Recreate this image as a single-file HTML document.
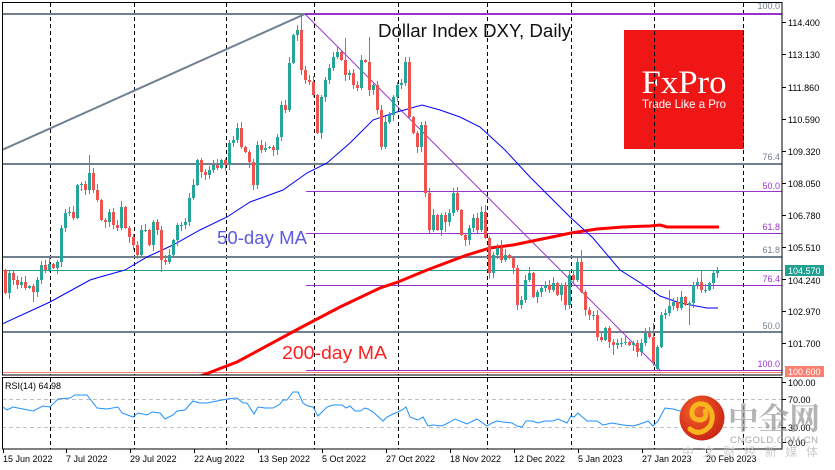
<!DOCTYPE html>
<html><head><meta charset="utf-8">
<style>
html,body{margin:0;padding:0;background:#fff;}
svg{display:block;}
text{font-family:"Liberation Sans","Noto Sans CJK SC",sans-serif;}
</style></head>
<body>
<svg width="835" height="470" viewBox="0 0 835 470" xmlns="http://www.w3.org/2000/svg">
<defs>
<clipPath id="mainclip"><rect x="2" y="2" width="780" height="373"/></clipPath>
<clipPath id="rsiclip"><rect x="2" y="377" width="780" height="72"/></clipPath>
<radialGradient id="lg" cx="0.4" cy="0.35" r="0.7">
<stop offset="0" stop-color="#f06a2a"/><stop offset="0.6" stop-color="#dc3a1c"/><stop offset="1" stop-color="#c42516"/>
</radialGradient>
</defs>
<rect width="835" height="470" fill="#fff"/>

<!-- FxPro box -->
<rect x="624" y="30" width="120" height="119" fill="#f01616"/>
<text x="641.5" y="93" font-size="33" fill="#fff" textLength="85" lengthAdjust="spacingAndGlyphs" style="font-family:'Liberation Serif',serif">FxPro</text>
<text x="642" y="108" font-size="12" fill="#fff" textLength="84" lengthAdjust="spacingAndGlyphs">Trade Like a Pro</text>

<!-- vertical dashed grid -->
<g stroke="#000" stroke-width="1" stroke-dasharray="4 3">
<line x1="50.5" y1="3" x2="50.5" y2="375"/><line x1="134.5" y1="3" x2="134.5" y2="375"/>
<line x1="226.5" y1="3" x2="226.5" y2="375"/><line x1="314.5" y1="3" x2="314.5" y2="375"/>
<line x1="398.5" y1="3" x2="398.5" y2="375"/><line x1="487.5" y1="3" x2="487.5" y2="375"/>
<line x1="571.5" y1="3" x2="571.5" y2="375"/><line x1="654.5" y1="3" x2="654.5" y2="375"/>
<line x1="743.5" y1="3" x2="743.5" y2="375"/>
<line x1="50.5" y1="378" x2="50.5" y2="449"/><line x1="134.5" y1="378" x2="134.5" y2="449"/>
<line x1="226.5" y1="378" x2="226.5" y2="449"/><line x1="314.5" y1="378" x2="314.5" y2="449"/>
<line x1="398.5" y1="378" x2="398.5" y2="449"/><line x1="487.5" y1="378" x2="487.5" y2="449"/>
<line x1="571.5" y1="378" x2="571.5" y2="449"/><line x1="654.5" y1="378" x2="654.5" y2="449"/>
<line x1="743.5" y1="378" x2="743.5" y2="449"/>
</g>

<g clip-path="url(#mainclip)">
<!-- gray fib lines -->
<g stroke="#708090" stroke-width="2">
<line x1="2" y1="14" x2="306" y2="14"/>
<line x1="2" y1="164" x2="782" y2="164"/>
<line x1="2" y1="257" x2="782" y2="257"/>
<line x1="2" y1="332" x2="782" y2="332"/>
<line x1="2" y1="150" x2="305" y2="14"/>
</g>
<!-- purple fib lines -->
<line x1="305" y1="14" x2="782" y2="14" stroke="#9932cc" stroke-width="2"/>
<g stroke="#9932cc" stroke-width="1">
<line x1="306" y1="191.5" x2="782" y2="191.5"/>
<line x1="306" y1="233.5" x2="782" y2="233.5"/>
<line x1="306" y1="285.5" x2="782" y2="285.5"/>
<line x1="306" y1="370.5" x2="782" y2="370.5"/>
<line x1="305" y1="14" x2="661" y2="371"/>
</g>
<!-- price lines -->
<line x1="2" y1="270.5" x2="782" y2="270.5" stroke="#20a090" stroke-width="1"/>
<line x1="2" y1="372.5" x2="782" y2="372.5" stroke="#f08070" stroke-width="1"/>

<!-- fib labels -->
<g font-size="9" text-anchor="end">
<text x="780" y="9" fill="#708090">100.0</text>
<text x="780" y="160" fill="#708090">76.4</text>
<text x="780" y="189" fill="#9932cc">50.0</text>
<text x="780" y="230" fill="#9932cc">61.8</text>
<text x="780" y="253" fill="#708090">61.8</text>
<text x="780" y="282" fill="#9932cc">76.4</text>
<text x="780" y="329" fill="#708090">50.0</text>
<text x="780" y="367" fill="#9932cc">100.0</text>
</g>

<!-- 200 MA -->
<polyline fill="none" stroke="#ff0000" stroke-width="3" points="198,377 237,362 300,328 340,307 380,288 398,282 427,270 467,255 490,248 513,245 547,238 571,233 597,229 623,227 650,226 660,225 667,227 719,227"/>
<!-- 50 MA -->
<polyline fill="none" stroke="#0000ff" stroke-width="1" points="2,324 50,302 90,280 100,277 125,270 147,257 173,245 200,230 227,217 250,202 283,190 307,173 327,163 350,143 373,120 397,112 422,105 440,110 460,117 480,127 505,150 530,177 570,217 593,238 620,270 647,287 660,296 680,303 707,308 718,308"/>

<!-- candles: teal wicks -->
<path fill="none" stroke="#26a69a" stroke-width="1" d="M9.5 271V299M21.5 277V288M29.5 285V289M37.5 277V297M41.5 261V284M49.5 258V272M57.5 260V274M61.5 225V267M65.5 209V232M69.5 207V216M77.5 184V219M81.5 182V191M89.5 155V194M109.5 209V227M121.5 201V230M141.5 225V258M145.5 224V232M153.5 220V251M169.5 249V264M173.5 239V256M177.5 223V246M181.5 222V231M185.5 218V229M189.5 193V226M193.5 179V200M197.5 159V186M209.5 166V179M213.5 160V173M221.5 159V169M229.5 140V170M233.5 136V147M237.5 123V143M257.5 141V189M265.5 142V152M269.5 146V149M277.5 134V155M281.5 101V141M289.5 57V112M293.5 34V64M297.5 25V41M321.5 95V139M325.5 77V102M329.5 64V84M333.5 52V71M337.5 46V59M349.5 70V80M361.5 55V90M373.5 82V95M385.5 116V149M389.5 112V124M393.5 95V121M397.5 82V102M401.5 79V89M405.5 57V86M421.5 122V152M433.5 209V232M441.5 213V236M449.5 209V226M453.5 188V216M469.5 225V245M473.5 214V232M481.5 206V232M493.5 252V278M497.5 244V259M505.5 249V262M521.5 296V309M525.5 275V303M529.5 267V282M537.5 290V303M541.5 285V297M545.5 281V292M553.5 277V292M561.5 283V301M569.5 271V309M577.5 256V282M593.5 311V320M605.5 327V341M617.5 339V349M621.5 338V347M625.5 336V345M633.5 341V351M641.5 339V356M645.5 328V346M657.5 345V371M661.5 312V348M665.5 309V319M669.5 290V316M673.5 298V310M681.5 291V310M689.5 301V325M693.5 282V308M697.5 278V289M705.5 284V293M709.5 282V291M713.5 271V289M717.5 267V278"/>
<!-- teal bodies -->
<path fill="none" stroke="#26a69a" stroke-width="3" d="M9.5 273V293M21.5 282V285M29.5 286V288M37.5 280V292M41.5 265V280M49.5 264V270M57.5 262V268M61.5 228V262M65.5 213V228M69.5 212V213M77.5 185V218M81.5 184V185M89.5 173V190M109.5 212V222M121.5 207V228M141.5 230V255M145.5 230V231M153.5 222V245M169.5 255V262M173.5 240V255M177.5 225V240M181.5 225V226M185.5 222V225M189.5 198V222M193.5 185V198M197.5 160V185M209.5 170V175M213.5 165V170M221.5 160V168M229.5 143V165M233.5 140V143M237.5 128V140M257.5 145V185M265.5 148V150M269.5 147V148M277.5 137V150M281.5 105V137M289.5 63V110M293.5 35V63M297.5 30V35M321.5 97V133M325.5 80V97M329.5 68V80M333.5 57V68M337.5 52V57M349.5 73V75M361.5 60V88M373.5 85V90M385.5 122V147M389.5 115V122M393.5 97V115M397.5 85V97M401.5 83V85M405.5 62V83M421.5 125V147M433.5 215V230M441.5 215V230M449.5 213V222M453.5 193V213M469.5 228V240M473.5 218V228M481.5 212V230M493.5 255V273M497.5 248V255M505.5 255V260M521.5 300V305M525.5 280V300M529.5 273V280M537.5 292V297M541.5 288V292M545.5 285V288M553.5 283V290M561.5 285V295M569.5 275V305M577.5 262V280M593.5 315V316M605.5 328V340M617.5 343V345M621.5 343V344M625.5 342V343M633.5 343V345M641.5 343V352M645.5 333V343M657.5 347V369M661.5 315V347M665.5 313V315M669.5 306V313M673.5 302V306M681.5 297V308M689.5 303V305M693.5 285V303M697.5 282V285M705.5 290V291M709.5 283V290M713.5 273V283M717.5 270V273"/>
<!-- red wicks -->
<path fill="none" stroke="#ef5350" stroke-width="1" d="M5.5 269V294M13.5 270V285M17.5 276V289M25.5 276V290M33.5 284V302M45.5 260V273M53.5 263V269M73.5 206V220M85.5 181V195M93.5 168V193M97.5 184V202M101.5 199V221M105.5 218V228M113.5 208V229M117.5 220V231M125.5 206V229M129.5 226V243M133.5 234V250M137.5 241V259M149.5 229V246M157.5 219V235M161.5 226V272M165.5 255V265M201.5 158V178M205.5 169V180M217.5 159V170M225.5 158V171M241.5 122V149M245.5 146V153M249.5 150V168M253.5 159V190M261.5 140V153M273.5 145V156M285.5 100V113M301.5 15V75M305.5 66V84M309.5 75V85M313.5 76V97M317.5 94V134M341.5 51V61M345.5 38V81M353.5 69V89M357.5 81V91M365.5 59V63M369.5 37V96M377.5 81V114M381.5 105V150M409.5 57V119M413.5 116V134M417.5 131V153M425.5 121V197M429.5 188V233M437.5 214V231M445.5 212V232M457.5 187V212M461.5 209V236M465.5 233V246M477.5 213V233M485.5 205V239M489.5 236V279M501.5 240V263M509.5 254V259M513.5 256V274M517.5 265V310M533.5 272V298M549.5 280V293M557.5 282V296M565.5 282V310M573.5 270V283M581.5 250V293M585.5 290V316M589.5 307V320M597.5 310V341M601.5 331V342M609.5 326V348M613.5 339V355M629.5 341V346M637.5 340V357M649.5 327V339M653.5 323V366M677.5 297V311M685.5 296V306M701.5 270V293"/>
<!-- red bodies -->
<path fill="none" stroke="#ef5350" stroke-width="3" d="M5.5 270V293M13.5 273V280M17.5 280V285M25.5 282V288M33.5 286V292M45.5 265V270M53.5 264V268M73.5 212V218M85.5 184V190M93.5 173V190M97.5 190V200M101.5 200V220M105.5 220V222M113.5 212V225M117.5 225V228M125.5 207V228M129.5 228V237M133.5 237V245M137.5 245V255M149.5 230V245M157.5 222V230M161.5 230V260M165.5 260V262M201.5 160V172M205.5 172V175M217.5 165V168M225.5 160V165M241.5 128V147M245.5 147V152M249.5 152V162M253.5 162V185M261.5 145V150M273.5 147V150M285.5 105V110M301.5 30V70M305.5 70V80M309.5 80V82M313.5 82V95M317.5 95V133M341.5 52V60M345.5 60V75M353.5 73V85M357.5 85V88M365.5 60V62M369.5 62V90M377.5 85V110M381.5 110V147M409.5 62V117M413.5 117V133M417.5 133V147M425.5 125V193M429.5 193V230M437.5 215V230M445.5 215V222M457.5 193V210M461.5 210V235M465.5 235V240M477.5 218V230M485.5 212V238M489.5 238V273M501.5 248V260M509.5 255V258M513.5 258V268M517.5 268V305M533.5 273V297M549.5 285V290M557.5 283V295M565.5 285V305M573.5 275V280M581.5 262V292M585.5 292V310M589.5 310V315M597.5 315V337M601.5 337V340M609.5 328V342M613.5 342V345M629.5 342V345M637.5 343V352M649.5 333V337M653.5 337V362M677.5 302V308M685.5 297V305M701.5 282V290"/>
</g>

<!-- chart texts -->
<text x="378" y="37" font-size="18" fill="#111" textLength="193" lengthAdjust="spacingAndGlyphs">Dollar Index DXY, Daily</text>
<text x="217" y="244" font-size="18" fill="#5a5ae0" textLength="90" lengthAdjust="spacingAndGlyphs">50-day MA</text>
<text x="282" y="359" font-size="18" fill="#ff2020" textLength="105" lengthAdjust="spacingAndGlyphs">200-day MA</text>

<!-- RSI -->
<g clip-path="url(#rsiclip)">
<g stroke="#c0c0c0" stroke-width="1" stroke-dasharray="4 3">
<line x1="2" y1="399.5" x2="782" y2="399.5"/>
<line x1="2" y1="427.5" x2="782" y2="427.5"/>
</g>
<polyline fill="none" stroke="#1e90ff" stroke-width="1" points="3,407 7,410 13,407 33,411 43,406 50,407 58,399 70,398 75,395 87,395 97,408 107,409 118,407 122,413 133,417 138,413 147,415 152,412 160,413 165,419 173,415 177,411 185,410 193,401 200,403 207,403 227,399 237,398 243,403 247,403 254,414 258,407 265,408 273,408 280,404 283,400 287,400 293,392 298,392 303,403 308,406 313,407 318,416 327,407 333,405 342,405 346,408 350,406 355,411 360,411 365,408 368,409 373,412 383,421 387,417 393,414 398,412 402,410 406,407 410,417 418,420 423,417 428,426 433,425 442,426 448,423 455,419 467,424 477,419 487,426 492,423 497,421 503,422 512,423 517,426 522,427 526,421 532,421 538,423 545,421 553,421 558,419 567,423 571,416 574,417 578,413 587,421 597,421 603,425 612,423 623,425 633,426 640,424 648,421 653,426 658,421 665,408 673,409 680,411 690,410 700,406 710,404 717,402"/>
</g>
<text x="5" y="389" font-size="9" fill="#000">RSI(14) 64.98</text>

<!-- panel borders -->
<g fill="none" stroke="#000" stroke-width="1">
<rect x="2.5" y="2.5" width="779.5" height="372.5"/>
<rect x="2.5" y="377.5" width="779.5" height="71.5"/>
</g>

<!-- right axis -->
<g stroke="#000" stroke-width="1">
<line x1="782" y1="22.5" x2="786" y2="22.5"/><line x1="782" y1="54.5" x2="786" y2="54.5"/>
<line x1="782" y1="87.5" x2="786" y2="87.5"/><line x1="782" y1="119.5" x2="786" y2="119.5"/>
<line x1="782" y1="151.5" x2="786" y2="151.5"/><line x1="782" y1="183.5" x2="786" y2="183.5"/>
<line x1="782" y1="215.5" x2="786" y2="215.5"/><line x1="782" y1="247.5" x2="786" y2="247.5"/>
<line x1="782" y1="279.5" x2="786" y2="279.5"/><line x1="782" y1="311.5" x2="786" y2="311.5"/>
<line x1="782" y1="343.5" x2="786" y2="343.5"/>
<line x1="782" y1="382.5" x2="786" y2="382.5"/><line x1="782" y1="399.5" x2="786" y2="399.5"/>
<line x1="782" y1="427.5" x2="786" y2="427.5"/><line x1="782" y1="442.5" x2="786" y2="442.5"/>
</g>
<g font-size="9" fill="#000">
<text x="788" y="26">114.400</text><text x="788" y="58">113.130</text>
<text x="788" y="91">111.860</text><text x="788" y="123">110.590</text>
<text x="788" y="155">109.320</text><text x="788" y="187">108.050</text>
<text x="788" y="219">106.780</text><text x="788" y="251">105.510</text>
<text x="788" y="284">104.240</text><text x="788" y="315">102.970</text>
<text x="788" y="347">101.700</text>
<text x="788" y="386">100.00</text><text x="788" y="403">70.00</text>
<text x="788" y="431">30.00</text><text x="788" y="446">0.00</text>
</g>
<rect x="785" y="265" width="39" height="11" fill="#20a090"/>
<text x="788" y="274" font-size="9" fill="#fff">104.570</text>
<rect x="785" y="366" width="39" height="11" fill="#fa8072"/>
<text x="788" y="375" font-size="9" fill="#fff">100.600</text>

<!-- date axis -->
<g stroke="#000" stroke-width="1">
<line x1="3.5" y1="449" x2="3.5" y2="453"/><line x1="66.5" y1="449" x2="66.5" y2="453"/>
<line x1="130.5" y1="449" x2="130.5" y2="453"/><line x1="194.5" y1="449" x2="194.5" y2="453"/>
<line x1="258.5" y1="449" x2="258.5" y2="453"/><line x1="322.5" y1="449" x2="322.5" y2="453"/>
<line x1="386.5" y1="449" x2="386.5" y2="453"/><line x1="450.5" y1="449" x2="450.5" y2="453"/>
<line x1="514.5" y1="449" x2="514.5" y2="453"/><line x1="578.5" y1="449" x2="578.5" y2="453"/>
<line x1="642.5" y1="449" x2="642.5" y2="453"/><line x1="706.5" y1="449" x2="706.5" y2="453"/>
</g>
<g font-size="9" fill="#000">
<text x="3" y="462">15 Jun 2022</text><text x="66" y="462">7 Jul 2022</text>
<text x="130" y="462">29 Jul 2022</text><text x="194" y="462">22 Aug 2022</text>
<text x="259" y="462">13 Sep 2022</text><text x="322" y="462">5 Oct 2022</text>
<text x="386" y="462">27 Oct 2022</text><text x="450" y="462">18 Nov 2022</text>
<text x="514" y="462">12 Dec 2022</text><text x="578" y="462">5 Jan 2023</text>
<text x="642" y="462">27 Jan 2023</text><text x="706" y="462">20 Feb 2023</text>
</g>

<!-- CNGOLD watermark -->
<circle cx="702" cy="418" r="22.5" fill="url(#lg)"/>
<path d="M 690 429 Q 700 437 710 426 Q 716 413 706 405 Q 695 401 692 411 Q 691 420 701 420 Q 708 418 705 411" fill="none" stroke="#f7b51e" stroke-width="5" stroke-linecap="round"/>
<text x="728" y="429" font-size="30" fill="#9a9a9a" fill-opacity="0.75" font-weight="bold" style="font-family:'Noto Serif CJK SC','Noto Sans CJK SC',serif" textLength="92" lengthAdjust="spacingAndGlyphs">中金网</text>
<text x="730" y="443" font-size="9.5" fill="#aaaaaa" textLength="88" lengthAdjust="spacing">CNGOLD.COM.CN</text>
<text x="682" y="456" font-size="12" fill="#c4c4c4" fill-opacity="0.85" textLength="136" lengthAdjust="spacing">中文财经新媒体</text>
</svg>
</body></html>
